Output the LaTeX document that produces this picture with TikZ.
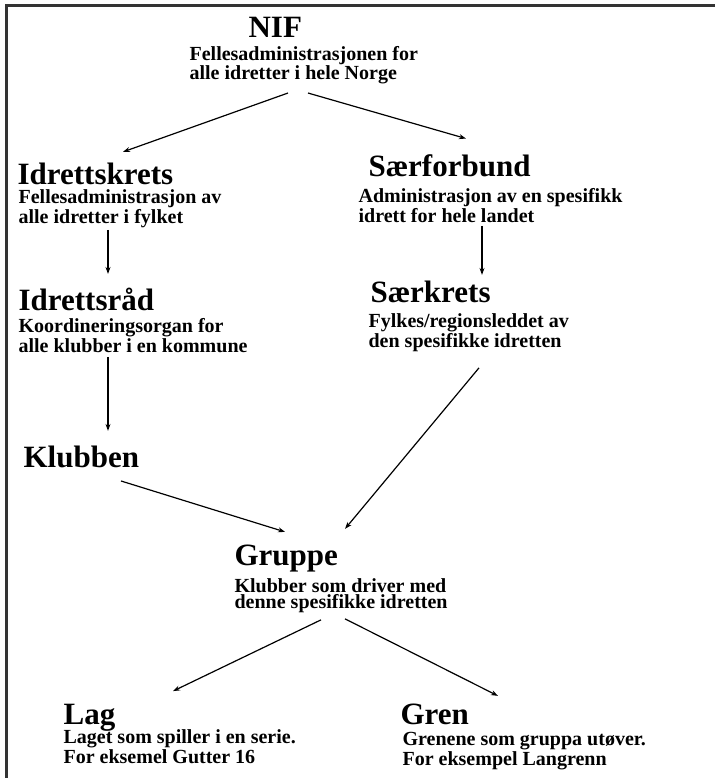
\documentclass[tikz,border=0pt]{standalone}
\usepackage{fontspec}
\setmainfont{Liberation Serif}
\usetikzlibrary{arrows.meta}

\begin{document}
\begin{tikzpicture}[x=1pt, y=-1pt, >={Stealth[length=7pt, width=5pt]}, line width=1.2pt]
        \tikzset{Title/.style={anchor=base west, inner sep=0pt, font=\fontsize{31}{31}\selectfont\bfseries}}
        \tikzset{Info/.style={anchor=base west, inner sep=0pt, align=left, font=\fontsize{20}{16}\selectfont\bfseries}}
        \useasboundingbox (0,0) rectangle (715,778);
        
        % frame
        \draw[line width=3pt, black!80] (715,6) -- (6,6) -- (6,778);
        
        % nodes (Info sits on the baseline of its last line)
        \node[Title] (nif) at (248,38) {NIF};
        \node[Info]  (nifTxt) at (189,80) {Fellesadministrasjonen for\\alle idretter i hele Norge};
        
        \node[Title] (krets) at (17,185) {Idrettskrets};
        \node[Info]  (kretsTxt) at (18,223) {Fellesadministrasjon av\\alle idretter i fylket};
        
        \node[Title] (sf) at (368,176) {Særforbund};
        \node[Info]  (sfTxt) at (358,222) {Administrasjon av en spesifikk\\idrett for hele landet};
        
        \node[Title] (raad) at (18,310) {Idrettsråd};
        \node[Info]  (raadTxt) at (18,352) {Koordineringsorgan for\\alle klubber i en kommune};
        
        \node[Title] (sk) at (370,302) {Særkrets};
        \node[Info]  (skTxt) at (368,347) {Fylkes/regionsleddet av\\den spesifikke idretten};
        
        \node[Title] (klubb) at (23,467) {Klubben};
        
        \node[Title] (grp) at (234,565) {Gruppe};
        \node[Info]  (grpTxt) at (234,608) {Klubber som driver med\\denne spesifikke idretten};
        
        \node[Title] (lag) at (63,724) {Lag};
        \node[Info]  (lagTxt) at (63,763) {Laget som spiller i en serie.\\For eksemel Gutter 16};
        
        \node[Title] (gren) at (400,724) {Gren};
        \node[Info]  (grenTxt) at (402,765) {Grenene som gruppa utøver.\\For eksempel Langrenn};
        
        % arrows
        \draw[->] ([shift={(99,8)}]nifTxt.south west) -- ([shift={(106,-11)}]krets.north west);
        \draw[->] ([shift={(119,8)}]nifTxt.south west) -- ([shift={(98,-15)}]sf.north west);
        \draw[->] ([shift={(90,2)}]kretsTxt.south west) -- ([shift={(90,-13)}]raad.north west);
        \draw[->] ([shift={(124,3)}]sfTxt.south west) -- ([shift={(112,-5)}]sk.north west);
        \draw[->] ([shift={(90,4)}]raadTxt.south west) -- ([shift={(85,-14)}]klubb.north west);
        \draw[->] ([shift={(98,13)}]klubb.south west) -- ([shift={(51,-12)}]grp.north west);
        \draw[->] ([shift={(111,16)}]skTxt.south west) -- ([shift={(111,-15)}]grp.north west);
        \draw[->] ([shift={(87,7)}]grpTxt.south west) -- ([shift={(110,-12)}]lag.north west);
        \draw[->] ([shift={(111,6)}]grpTxt.south west) -- ([shift={(98,-7)}]gren.north west);
    \end{tikzpicture}
\end{document}
